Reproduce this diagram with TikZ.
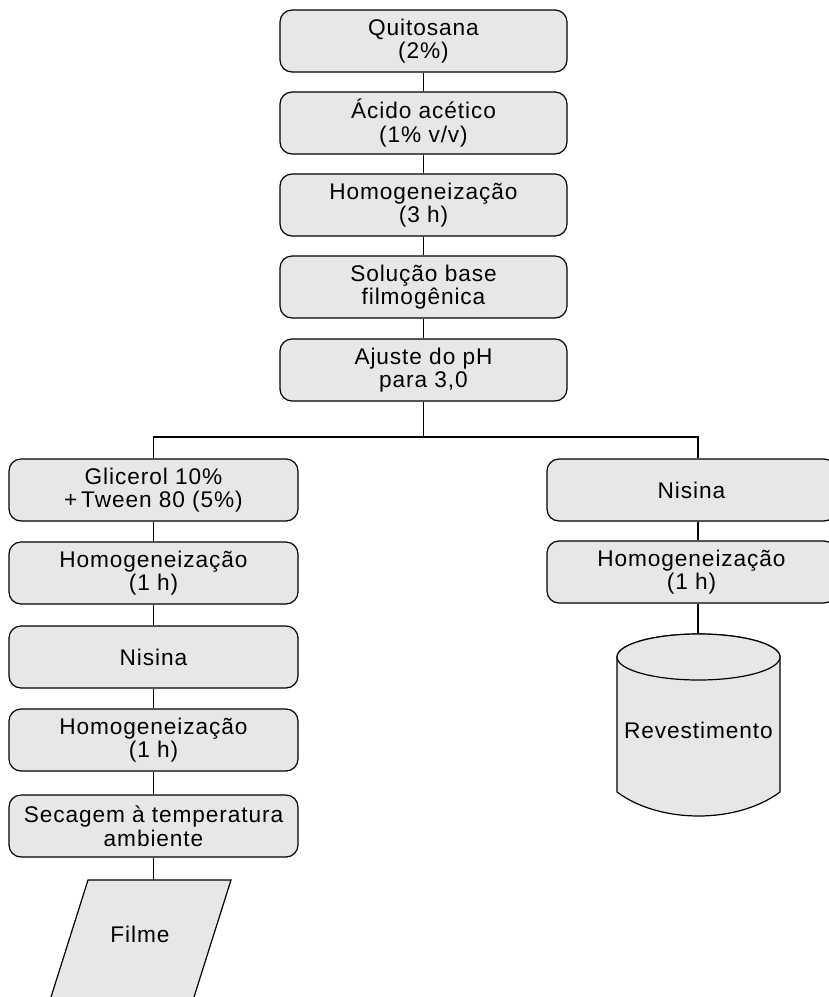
\documentclass[tikz,border=0pt]{standalone}
\usepackage{fontspec}
\setmainfont{Liberation Sans}[LetterSpace=4]
\definecolor{boxgray}{HTML}{E6E7E8}

\begin{document}
\begin{tikzpicture}[x = {(0.75pt, 0pt)},
                    y = {(0pt, -0.75pt)},
                    stepbox/.style = {draw, fill = boxgray, rounded corners = 9pt,
                                      minimum width = 215.25pt, minimum height = 46.5pt,
                                      align = center, inner sep = 0pt, line width = 0.9pt,
                                      font = \fontsize{17}{17.8}\selectfont},
                    sidebox/.style = {stepbox, minimum width = 216.75pt},
                    label/.style = {font = \fontsize{17}{17.8}\selectfont},
                    link/.style = {line width = 0.9pt}]

  \useasboundingbox (0, 0) rectangle (829, 997);

  % main column
  \node[stepbox] (quit)   at (423.5,  41) {Quitosana\\(2\%)};
  \node[stepbox] (acido)  at (423.5, 123) {Ácido acético\\(1\% v/v)};
  \node[stepbox] (homo)   at (423.5, 205) {Homogeneização\\(3 h)};
  \node[stepbox] (base)   at (423.5, 287) {Solução base\\filmogênica};
  \node[stepbox] (ajuste) at (423.5, 370) {Ajuste do pH\\para 3,0};

  \draw[link] (quit) -- (acido);
  \draw[link] (acido) -- (homo);
  \draw[link] (homo) -- (base);
  \draw[link] (base) -- (ajuste);

  % left branch (filme)
  \node[sidebox] (glic)  at (153.5, 490) {Glicerol 10\%\\+\,Tween 80 (5\%)};
  \node[sidebox] (homl1) at (153.5, 573) {Homogeneização\\(1 h)};
  \node[sidebox] (nisl)  at (153.5, 657) {Nisina};
  \node[sidebox] (homl2) at (153.5, 740) {Homogeneização\\(1 h)};
  \node[sidebox] (sec)   at (153.5, 826) {Secagem à temperatura\\ambiente};

  \draw[link] (glic) -- (homl1);
  \draw[link] (homl1) -- (nisl);
  \draw[link] (nisl) -- (homl2);
  \draw[link] (homl2) -- (sec);

  \draw[link, fill = boxgray] (88, 880) -- (231, 880) -- (191.8, 1004) -- (48.8, 1004) -- cycle; % parallelogram
  \coordinate (filmtop) at (153.5, 880);
  \node[label] (filme) at (140, 934) {Filme};
  \draw[link] (sec) -- (filmtop);

  % right branch (revestimento)
  \node[sidebox] (nisr) at (691.5, 490) {Nisina};
  \node[sidebox] (homr) at (691.5, 572) {Homogeneização\\(1 h)};

  \draw[link, fill = boxgray] (780, 657) -- (780, 792)
    .. controls (737, 824) and (660, 824) .. (617, 792) -- (617, 657)
    arc [start angle = 180, end angle = 360, x radius = 81.5, y radius = 23]; % cylinder body
  \draw[link, fill = boxgray] (698.5, 657) ellipse [x radius = 81.5, y radius = 23]; % cylinder top
  \coordinate (cyltop) at (698, 634);
  \node[label] (revest) at (698.5, 730) {Revestimento};

  % split
  \coordinate (split)  at (423.5, 437);
  \coordinate (rsplit) at (698, 437);
  \draw[link] (ajuste) -- (split);
  \draw[link] (glic.north) |- (rsplit) -- (rsplit |- nisr.north);
  \draw[link] (rsplit |- nisr.south) -- (rsplit |- homr.north);
  \draw[link] (rsplit |- homr.south) -- (cyltop);
\end{tikzpicture}
\end{document}
